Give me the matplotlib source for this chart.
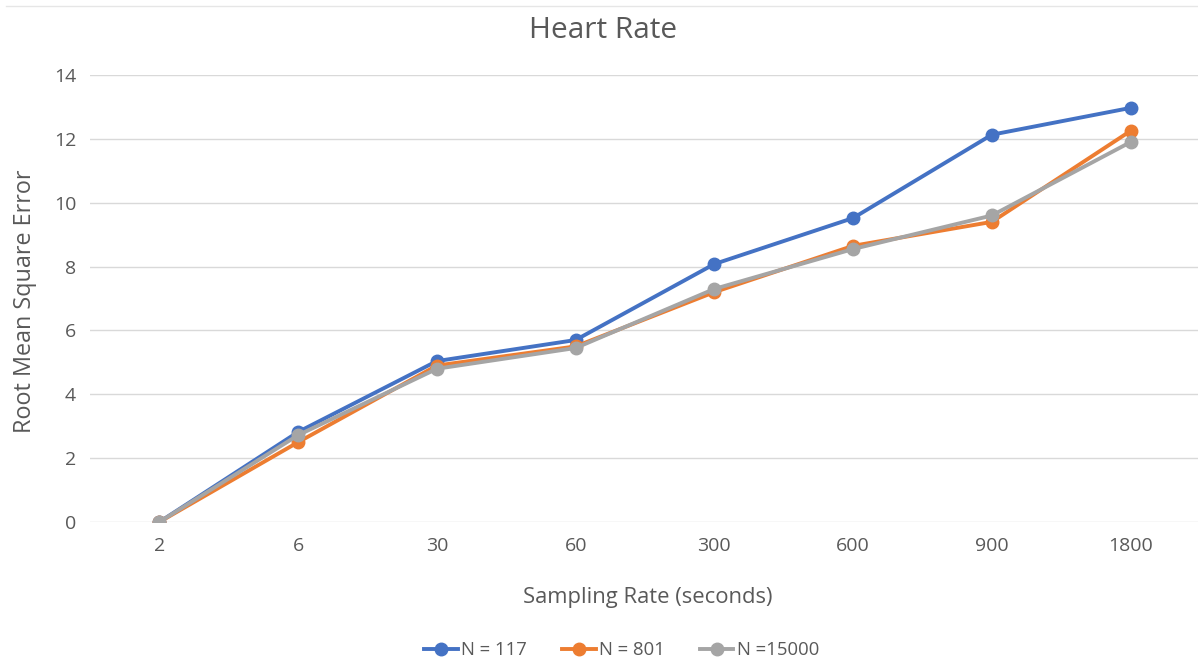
import matplotlib
matplotlib.use("Agg")
import matplotlib.pyplot as plt
from matplotlib.lines import Line2D

categories = ["2", "6", "30", "60", "300", "600", "900", "1800"]
n117 = [0.0, 2.82, 5.04, 5.7, 8.08, 9.52, 12.13, 12.97]
n801 = [0.0, 2.5, 4.9, 5.5, 7.2, 8.65, 9.4, 12.25]
n15000 = [0.0, 2.72, 4.8, 5.45, 7.3, 8.55, 9.6, 11.9]
series_labels = ["N = 117", "N = 801", "N =15000"]
colors = ["#4472C4", "#ED7D31", "#A5A5A5"]

plt.rcParams['font.family'] = ['Open Sans', 'DejaVu Sans']

fig = plt.figure(figsize=(11.98, 6.64), dpi=100)
ax = fig.add_axes([90/1198, (664-522)/664, (1200-90)/1198, (522-75)/664])

x = list(range(len(categories)))
for vals, lab, c in zip([n117, n801, n15000], series_labels, colors):
    ax.plot(x, vals, color=c, lw=2.8, marker='o', markersize=9, label=lab,
            solid_joinstyle='round')

ax.set_xlim(-0.5, len(categories) - 0.5)
ax.set_ylim(0, 14)
ax.set_yticks(range(0, 15, 2))
ax.set_xticks(x)
ax.set_xticklabels(categories)
ax.grid(axis='y', color='#D9D9D9', lw=1)
ax.set_axisbelow(True)
for s in ax.spines.values():
    s.set_visible(False)
ax.tick_params(length=0, colors='#595959', labelsize=14)
ax.tick_params(axis='x', pad=11)
ax.tick_params(axis='y', pad=10)

fig.text(603/1198, 1 - 31/664, "Heart Rate", ha='center', va='center',
         fontsize=21.5, color='#595959')
fig.text(25/1198, 1 - 301/664, "Root Mean Square Error", rotation=90,
         ha='center', va='center', fontsize=16.8, color='#595959')
fig.text(648/1198, 1 - 597/664, "Sampling Rate (seconds)", ha='center',
         va='center', fontsize=15.8, color='#595959')

fig.legend(loc='center', bbox_to_anchor=(622/1198, 1 - 650/664), ncol=3,
           frameon=False, fontsize=13.3, labelcolor='#595959',
           handlelength=1.8, columnspacing=1.9, handletextpad=0.2)

fig.add_artist(Line2D([6/1198, 1], [1 - 6/664, 1 - 6/664],
                      transform=fig.transFigure, color='#E6E6E6', lw=1))

fig.savefig("out.png", dpi=100)
